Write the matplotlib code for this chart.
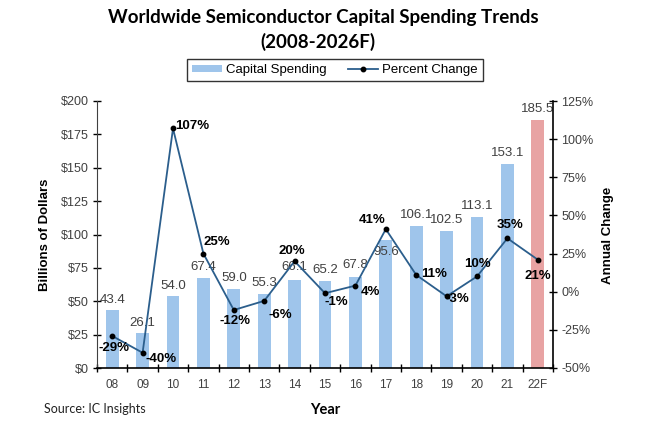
import matplotlib
matplotlib.use("Agg")
import matplotlib.pyplot as plt
from matplotlib.lines import Line2D
from matplotlib.patches import Patch
import numpy as np

years = ["08", "09", "10", "11", "12", "13", "14", "15", "16", "17", "18", "19", "20", "21", "22F"]
spending = [43.4, 26.1, 54.0, 67.4, 59.0, 55.3, 66.1, 65.2, 67.8, 95.6, 106.1, 102.5, 113.1, 153.1, 185.5]
pct_change = [-29, -40, 107, 25, -12, -6, 20, -1, 4, 41, 11, -3, 10, 35, 21]
# label offsets in pixels (dx, dy; dy positive = down)
pct_offsets = [(2, 12), (18, 6), (19, -2), (13, -12), (1, 11), (16, 14), (-3, -10), (11, 9),
               (15, 6), (-14, -9), (18, -1), (11, 3), (0, -12), (3, -13), (0, 16)]
bar_offsets = [10, 10, 10, 11, 11, 11, 13, 11, 12, -12, 11, 11, 11, 11, 11]

blue = "#9FC5EB"
red = "#E8A3A3"
line_col = "#2B5E8C"
txt_col = "#404040"

fig = plt.figure(figsize=(6.5, 4.26), dpi=100)
ax = fig.add_axes([97/650, 1-368/426, (553-97)/650, (368-101)/426])
x = np.arange(len(years))
colors = [blue]*(len(years)-1) + [red]
ax.bar(x, spending, width=0.42, color=colors, zorder=2)
ax.set_xlim(-0.5, len(years)-0.5)
ax.set_ylim(0, 200)
ax.set_yticks(np.arange(0, 201, 25))
ax.set_yticklabels([f"${v}" for v in range(0, 201, 25)])
ax.set_xticks(x)
ax.set_xticklabels(years)
ax.set_xticks(np.arange(-0.5, len(years), 1.0), minor=True)
ax.tick_params(axis="x", which="major", length=0, pad=8, labelsize=8.5, labelcolor=txt_col)
ax.tick_params(axis="x", which="minor", direction="inout", length=6, width=1, color="black")
ax.tick_params(axis="y", direction="inout", length=6, width=1, labelsize=9, labelcolor=txt_col, pad=3)
for s in ["top", "right"]:
    ax.spines[s].set_visible(False)
ax.spines["left"].set_color(txt_col)
ax.spines["bottom"].set_color("black")
ax.spines["bottom"].set_linewidth(1.2)

for xi, v, off in zip(x, spending, bar_offsets):
    ax.annotate(f"{v:.1f}", (xi, v), xytext=(0, off), textcoords="offset pixels",
                ha="center", va="center", fontsize=9.5, color=txt_col,
                family="Liberation Sans", zorder=3)

ax2 = ax.twinx()
ax2.set_ylim(-50, 125)
ax2.set_yticks(np.arange(-50, 126, 25))
ax2.set_yticklabels([f"{v}%" for v in range(-50, 126, 25)])
ax2.tick_params(axis="y", direction="inout", length=6, width=1, labelsize=9, labelcolor=txt_col, pad=3)
for s in ["top", "left", "bottom"]:
    ax2.spines[s].set_visible(False)
ax2.spines["right"].set_color("black")
ax2.spines["right"].set_linewidth(1.2)
ax2.plot(x, pct_change, color=line_col, lw=1.3, marker="o", markersize=3.2,
         markerfacecolor="black", markeredgecolor="black", zorder=4)
for xi, v, (dx, dy) in zip(x, pct_change, pct_offsets):
    ax2.annotate(f"{v}%", (xi, v), xytext=(dx, -dy), textcoords="offset pixels",
                 ha="center", va="center", fontsize=9.5, fontweight="bold",
                 color="black", family="Liberation Sans", zorder=5)

for a in (ax, ax2):
    for lab in a.get_xticklabels() + a.get_yticklabels():
        lab.set_family("Liberation Sans")

fig.text(45/650, 1-235/426, "Billions of Dollars", rotation=90, ha="center", va="center",
         fontsize=9.5, fontweight="bold", family="Liberation Sans")
fig.text(608/650, 1-235/426, "Annual Change", rotation=90, ha="center", va="center",
         fontsize=9.5, fontweight="bold", family="Liberation Sans")
fig.text(325/650, 1-410/426, "Year", ha="center", va="center", fontsize=10.5,
         fontweight="bold", family="Lato")
fig.text(44/650, 1-409/426, "Source: IC Insights", ha="left", va="center", fontsize=9,
         family="Lato", color="#222222")
fig.text(323/650, 1-18/426, "Worldwide Semiconductor Capital Spending Trends", ha="center",
         va="center", fontsize=13.5, fontweight="bold", family="Lato")
fig.text(318/650, 1-42/426, "(2008-2026F)", ha="center", va="center", fontsize=13.5,
         fontweight="bold", family="Lato")

handles = [Patch(facecolor=blue, edgecolor="none", label="Capital Spending"),
           Line2D([0], [0], color=line_col, lw=1.3, marker="o", markersize=3.2,
                  markerfacecolor="black", markeredgecolor="black", label="Percent Change")]
leg = fig.legend(handles=handles, loc="center", bbox_to_anchor=(335/650, 1-70/426), ncol=2,
                 frameon=True, fancybox=False, edgecolor="black",
                 prop={"family": "Liberation Sans", "size": 9.5}, handlelength=2.3,
                 handleheight=0.5, handletextpad=0.3, columnspacing=1.6, borderpad=0.35,
                 borderaxespad=0)
leg.get_frame().set_linewidth(1.0)

fig.savefig("out.png", dpi=100)
